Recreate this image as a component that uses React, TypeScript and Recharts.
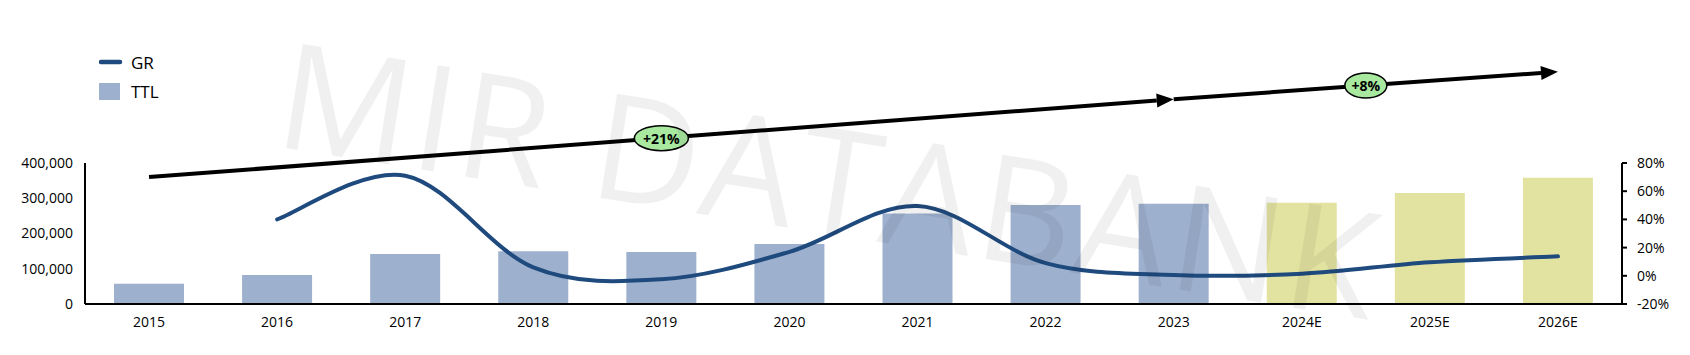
import React from 'react';
import {
  ComposedChart,
  Bar,
  Line,
  XAxis,
  YAxis,
  Legend,
  Cell,
  ReferenceLine,
} from 'recharts';

const years = ['2015', '2016', '2017', '2018', '2019', '2020', '2021', '2022', '2023', '2024E', '2025E', '2026E'];
const ttl = [57500, 82000, 142000, 150000, 147500, 170000, 257000, 281000, 284500, 287500, 315000, 358000];
const gr = [null, 40, 71, 6, -2.5, 17, 49.5, 9, 0.6, 1.5, 9.6, 13.8];

const leftTicks = [0, 100000, 200000, 300000, 400000];
const rightTicks = [-20, 0, 20, 40, 60, 80];

// trend arrows drawn above the bars (left-axis units), with their CAGR labels
const trendFrom = ['2015', '2023'];
const trendTo = ['2023', '2026E'];
const trendStartY = [360000, 581000];
const trendEndY = [581000, 659000];
const trendLabels = ['+21%', '+8%'];

const FONT = '"Open Sans", "Liberation Sans", sans-serif';
const BAR_BLUE = '#9DB0CE';
const BAR_YELLOW = '#E2E3A0';
const LINE_BLUE = '#1F4A7E';

const data = years.map((year, i) => ({ year, TTL: ttl[i], GR: gr[i] }));

// Excel-like smoothed line (cubic bezier through every point)
const smoothCurve = (context: any) => {
  let pts: number[][] = [];
  return {
    areaStart() {},
    areaEnd() {},
    lineStart() {
      pts = [];
    },
    point(x: number, y: number) {
      pts.push([+x, +y]);
    },
    lineEnd() {
      if (!pts.length) return;
      context.moveTo(pts[0][0], pts[0][1]);
      for (let i = 0; i < pts.length - 1; i++) {
        const p0 = pts[i - 1] || pts[i];
        const p1 = pts[i];
        const p2 = pts[i + 1];
        const p3 = pts[i + 2] || p2;
        context.bezierCurveTo(
          p1[0] + (p2[0] - p0[0]) / 6,
          p1[1] + (p2[1] - p0[1]) / 6,
          p2[0] - (p3[0] - p1[0]) / 6,
          p2[1] - (p3[1] - p1[1]) / 6,
          p2[0],
          p2[1]
        );
      }
    },
  };
};

const arrowShape = (label: string, rx: number) => (props: any) => {
  const { x1, y1, x2, y2 } = props;
  if (x1 == null || x2 == null) return null;
  const len = Math.hypot(x2 - x1, y2 - y1);
  const ux = (x2 - x1) / len;
  const uy = (y2 - y1) / len;
  const head = 17;
  const half = 7;
  const bx = x2 - ux * head;
  const by = y2 - uy * head;
  const mx = (x1 + x2) / 2;
  const my = (y1 + y2) / 2;
  return (
    <g>
      <line x1={x1} y1={y1} x2={bx} y2={by} stroke="#000" strokeWidth={4} />
      <polygon
        points={`${x2},${y2} ${bx - uy * half},${by + ux * half} ${bx + uy * half},${by - ux * half}`}
        fill="#000"
      />
      <ellipse cx={mx} cy={my} rx={rx} ry={12.5} fill="#A8E89F" stroke="#000" strokeWidth={1.5} />
      <text
        x={mx}
        y={my}
        textAnchor="middle"
        dominantBaseline="central"
        fontFamily={FONT}
        fontWeight={700}
        fontSize={14}
        fill="#000"
      >
        {label}
      </text>
    </g>
  );
};

const legendOrder = ['GR', 'TTL'];

const renderLegend = (props: any) => {
  const payload = props.payload || [];
  const items = legendOrder
    .map((name) => payload.find((p: any) => p.value === name))
    .filter(Boolean);
  return (
    <svg width={120} height={62} style={{ display: 'block' }}>
      {items.map((entry: any, i: number) => {
        const cy = 15 + i * 29.5;
        return (
          <g key={entry.value}>
            {entry.type === 'line' ? (
              <line x1={2} y1={cy} x2={21} y2={cy} stroke={LINE_BLUE} strokeWidth={4.5} strokeLinecap="round" />
            ) : (
              <rect x={0} y={cy - 8.5} width={21} height={17} fill={BAR_BLUE} />
            )}
            <text x={32} y={cy} dominantBaseline="central" fontFamily={FONT} fontSize={17} fill="#000">
              {entry.value}
            </text>
          </g>
        );
      })}
    </svg>
  );
};

const tickStyle = { fill: '#000', fontSize: 14, fontFamily: FONT };

export default function App() {
  return (
    <div style={{ position: 'absolute', left: 0, top: 0, width: 1690, height: 355, background: '#fff' }}>
      <ComposedChart
        width={1690}
        height={355}
        data={data}
        margin={{ top: 163, right: 8, bottom: 21, left: 5 }}
      >
        <XAxis
          dataKey="year"
          tickLine={false}
          tickMargin={7}
          axisLine={{ stroke: '#000', strokeWidth: 2 }}
          tick={tickStyle}
          height={30}
          interval={0}
        />
        <YAxis
          yAxisId="left"
          domain={[0, 400000]}
          ticks={leftTicks}
          tickFormatter={(v: number) => v.toLocaleString('en-US')}
          tickLine={false}
          tickMargin={6}
          axisLine={{ stroke: '#000', strokeWidth: 2 }}
          tick={tickStyle}
          width={80}
        />
        <YAxis
          yAxisId="right"
          orientation="right"
          domain={[-20, 80]}
          ticks={rightTicks}
          tickFormatter={(v: number) => `${v}%`}
          tickSize={5}
          tickMargin={10}
          tickLine={{ stroke: '#000', strokeWidth: 2 }}
          axisLine={{ stroke: '#000', strokeWidth: 2 }}
          tick={tickStyle}
          width={60}
        />
        <Legend
          layout="vertical"
          align="center"
          verticalAlign="middle"
          content={renderLegend}
          wrapperStyle={{ left: 99, top: 47, width: 120, height: 62 }}
        />
        <Bar yAxisId="left" dataKey="TTL" name="TTL" fill={BAR_BLUE} barSize={70} isAnimationActive={false}>
          {data.map((d) => (
            <Cell key={d.year} fill={d.year.endsWith('E') ? BAR_YELLOW : BAR_BLUE} />
          ))}
        </Bar>
        <Line
          yAxisId="right"
          dataKey="GR"
          name="GR"
          type={smoothCurve as any}
          stroke={LINE_BLUE}
          strokeWidth={4}
          strokeLinecap="round"
          dot={false}
          activeDot={false}
          legendType="line"
          isAnimationActive={false}
        />
        {trendLabels.map((label, i) => (
          <ReferenceLine
            key={label}
            yAxisId="left"
            ifOverflow="visible"
            segment={[
              { x: trendFrom[i], y: trendStartY[i] },
              { x: trendTo[i], y: trendEndY[i] },
            ]}
            shape={arrowShape(label, label.length > 3 ? 27 : 21)}
          />
        ))}
      </ComposedChart>
      <svg
        width={1690}
        height={355}
        style={{ position: 'absolute', left: 0, top: 0, pointerEvents: 'none' }}
      >
        <text
          x={272}
          y={146}
          transform="rotate(9 272 146)"
          fontFamily={FONT}
          fontSize={148}
          fill="#000"
          fillOpacity={0.06}
          textLength={1110}
          lengthAdjust="spacing"
        >
          MIR DATABANK
        </text>
      </svg>
    </div>
  );
}
